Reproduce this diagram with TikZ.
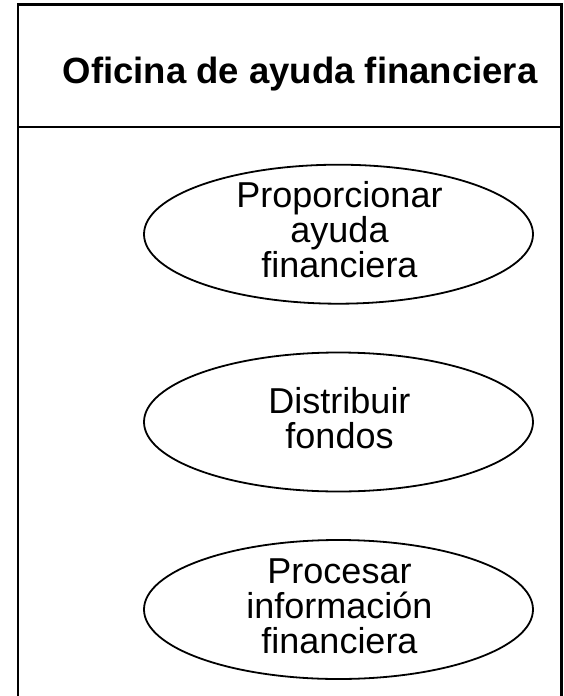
\documentclass[tikz,border=0pt]{standalone}
\usepackage{fontspec}
\setmainfont{Liberation Sans}
\usetikzlibrary{shapes.geometric}

\tikzset{
  usecase/.style={draw,ellipse,line width=1.8pt,minimum width=389pt,minimum height=139pt,inner sep=0pt},
  uclabel/.style={anchor=north,align=center,inner sep=0pt,font=\fontsize{36}{35}\selectfont}
}

\begin{document}
\begin{tikzpicture}[x=1pt,y=-1pt]
                \useasboundingbox (0,0) rectangle (563,696);
                \draw[line width=2.2pt] (18.3,720) |- (561.5,4.5) -- (561.5,720);
                \draw[line width=2.2pt] (18.3,127.3) -- (561.5,127.3);
                \node[anchor=base,inner sep=0pt,font=\fontsize{36.5}{40}\selectfont\bfseries] (office) at (300,83) {Oficina de ayuda financiera};
                \node[usecase] (proporcionar) at (338.5,234.2) {};
                \node[usecase] (distribuir) at (338.5,422) {};
                \node[usecase] (procesar) at (338.5,609.5) {};
                \node[uclabel] (proporcionar text) at (339.5,181) {Proporcionar\\ayuda\\financiera};
                \node[uclabel] (distribuir text) at (339.5,387) {Distribuir\\fondos};
                \node[uclabel] (procesar text) at (339.5,559) {Procesar\\información\\financiera};
\end{tikzpicture}
\end{document}
